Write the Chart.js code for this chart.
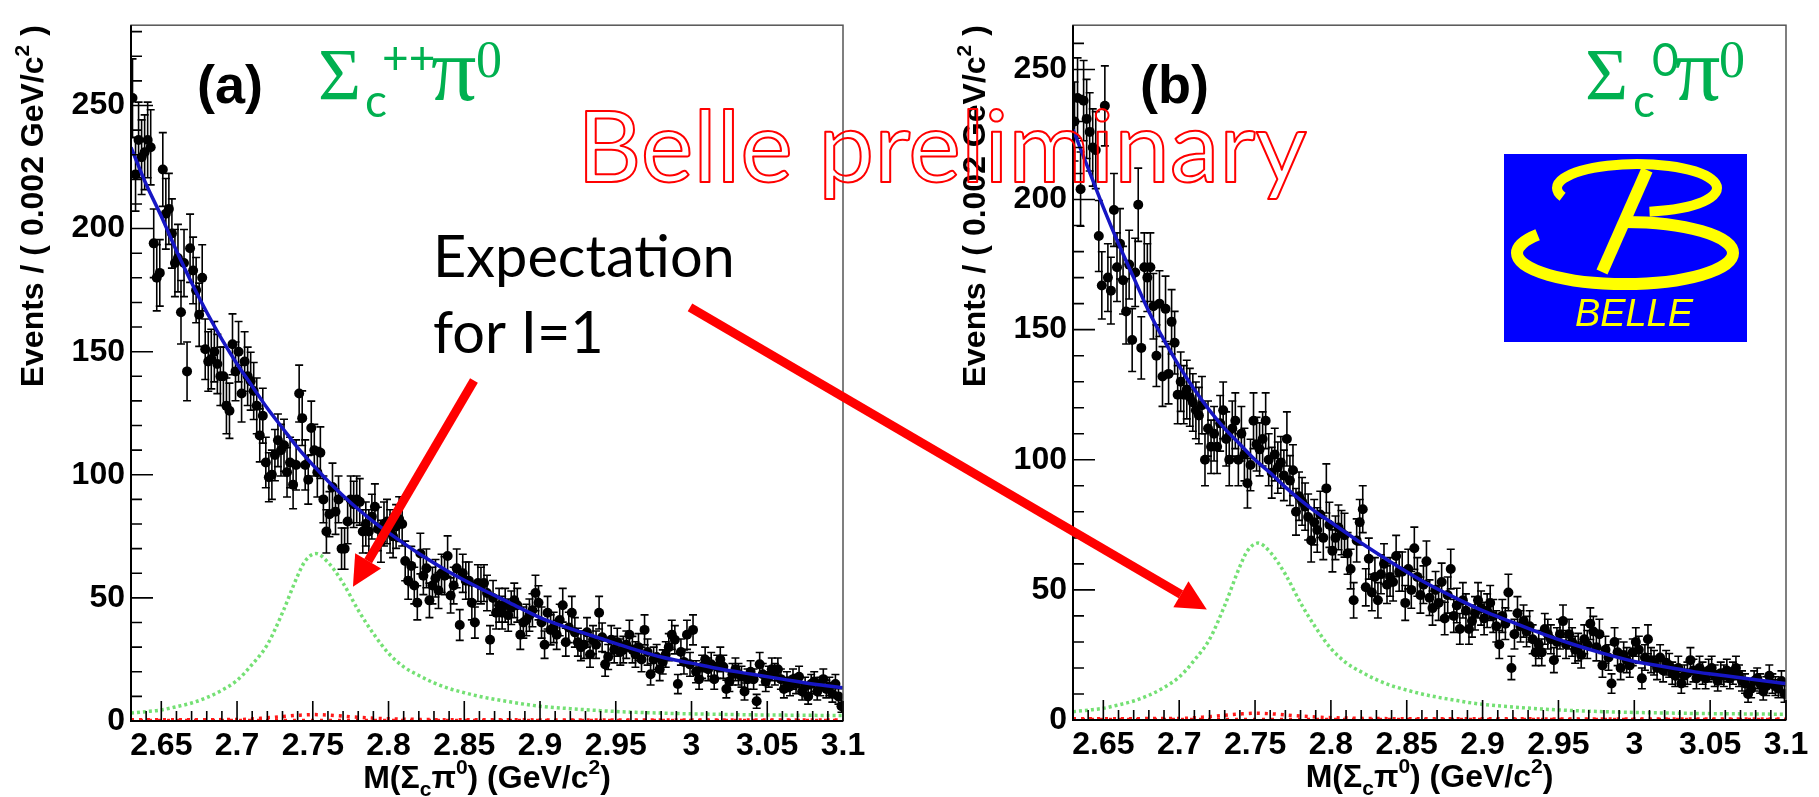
<!DOCTYPE html>
<html>
<head>
<meta charset="utf-8">
<script src="https://cdn.jsdelivr.net/npm/chart.js@4.4.1/dist/chart.umd.min.js"></script>
<style>
  html, body { margin: 0; padding: 0; background: #fff; }
  #wrap { position: relative; width: 1819px; height: 797px; overflow: hidden; }
  canvas { position: absolute; top: 0; }
  #panelA { left: 0; }
  #panelB { left: 900px; }
  #overlay { left: 0; pointer-events: none; }
</style>
</head>
<body>
<div id="wrap">
  <canvas id="panelA" width="900" height="797"></canvas>
  <canvas id="panelB" width="919" height="797"></canvas>
  <canvas id="overlay" width="1819" height="797"></canvas>
</div>
<script>
// histogram binning (0.002 GeV/c^2 bins, first bin centre)
const BIN_START = 2.631;
const BIN_WIDTH = 0.002;

const X_TICKS = [2.65, 2.7, 2.75, 2.8, 2.85, 2.9, 2.95, 3, 3.05, 3.1];
const X_TICK_LABELS = ['2.65', '2.7', '2.75', '2.8', '2.85', '2.9', '2.95', '3', '3.05', '3.1'];
const Y_TICKS = [0, 50, 100, 150, 200, 250];
const Y_TICK_LABELS = ['0', '50', '100', '150', '200', '250'];

// (a) Sigma_c++ pi0 events per bin
const countsA = [
  253, 222, 236, 229, 231, 236, 233, 194, 180, 182,
  224, 206, 208, 198, 186, 188, 166, 186, 142, 192,
  183, 175, 165, 180, 151, 146, 147, 150, 145, 140,
  140, 128, 126, 153, 142, 150, 133, 146, 140, 138,
  134, 128, 116, 124, 105, 99, 100, 108, 114, 110,
  112, 101, 105, 96, 104, 133, 123, 104, 98, 119,
  110, 101, 109, 90, 77, 84, 95, 85, 90, 70,
  70, 81, 90, 88, 90, 89, 77, 80, 77, 83,
  87, 78, 73, 80, 81, 77, 75, 79, 82, 80,
  65, 57, 63, 55, 48, 68, 59, 62, 49, 55,
  58, 53, 60, 59, 67, 51, 55, 62, 39, 60,
  57, 57, 48, 40, 56, 55, 56, 52, 33, 50,
  44, 47, 44, 47, 43, 46, 49, 47, 35, 40,
  41, 43, 45, 52, 48, 40, 31, 44, 37, 38,
  35, 41, 47, 32, 38, 44, 36, 32, 30, 31,
  36, 27, 33, 31, 44, 34, 23, 26, 33, 29,
  32, 28, 29, 31, 35, 29, 27, 30, 25, 37,
  28, 19, 25, 26, 21, 24, 27, 30, 35, 33,
  15, 28, 24, 35, 23, 37, 20, 17, 22, 25,
  21, 23, 17, 22, 25, 22, 13, 16, 19, 21,
  19, 18, 12, 17, 20, 17, 8, 23, 19, 16,
  18, 21, 19, 21, 17, 13, 16, 14, 17, 15,
  18, 12, 14, 10, 15, 16, 12, 14, 17, 13,
  14, 11, 15, 10, 6
];

// (b) Sigma_c0 pi0 events per bin
const countsB = [
  230, 239, 204, 238, 231, 226, 220, 219, 186, 167,
  236, 170, 165, 196, 174, 183, 169, 157, 175, 146,
  172, 198, 143, 174, 170, 174, 159, 140, 160, 132,
  158, 133, 153, 145, 125, 130, 125, 127, 124, 122,
  119, 117, 121, 100, 112, 105, 110, 105, 114, 119,
  108, 100, 112, 115, 100, 110, 102, 91, 98, 115,
  106, 104, 108, 115, 100, 95, 102, 97, 99, 94,
  108, 92, 96, 80, 86, 84, 82, 78, 69, 76,
  73, 79, 70, 89, 75, 65, 70, 74, 72, 71,
  64, 58, 46, 69, 76, 81, 51, 62, 49, 55,
  46, 56, 60, 52, 55, 53, 63, 57, 57, 45,
  58, 50, 66, 55, 48, 52, 61, 47, 43, 50,
  45, 53, 39, 48, 58, 40, 44, 35, 46, 42,
  35, 38, 41, 46, 43, 39, 42, 45, 40, 36,
  29, 40, 37, 49, 20, 33, 41, 36, 38, 34,
  36, 31, 26, 29, 26, 35, 33, 31, 23, 30,
  33, 38, 29, 33, 30, 27, 28, 25, 31, 29,
  37, 34, 28, 33, 21, 27, 24, 14, 30, 26,
  20, 25, 23, 21, 26, 30, 27, 16, 24, 31,
  23, 22, 20, 24, 19, 22, 21, 18, 17, 20,
  14, 17, 18, 23, 19, 16, 20, 18, 16, 19,
  20, 17, 15, 18, 17, 19, 16, 18, 20, 17,
  15, 14, 10, 12, 15, 16, 14, 11, 13, 17,
  14, 13, 12, 15, 10
];

// fitted background (blue)
const fitX = [2.63, 2.64, 2.65, 2.66, 2.67, 2.68, 2.69, 2.70, 2.71, 2.72, 2.73, 2.74, 2.75, 2.76, 2.77, 2.78, 2.79, 2.80,
  2.82, 2.84, 2.86, 2.88, 2.90, 2.92, 2.94, 2.96, 2.98, 3.00, 3.02, 3.04, 3.06, 3.08, 3.10];
const fitA = [233, 218, 205, 191, 178, 166, 155, 145, 136, 127, 119, 111, 104, 97.5, 91.5, 86, 81, 76.5,
  68, 60.5, 54, 48, 42, 37.5, 33.5, 29.5, 26, 23.5, 21, 19, 17, 15, 13.5];
const fitB = [227, 212, 197, 183, 170, 157, 146, 136, 127, 119, 112, 106, 100, 95, 89.5, 84.5, 80, 76,
  68, 60.5, 53.5, 47.5, 42, 37.5, 33, 29, 25.5, 22.5, 20.5, 18.5, 17, 15.5, 14];

// expected I=1 signal shape (green dotted)
const sigX = [2.63, 2.64, 2.65, 2.66, 2.67, 2.68, 2.69, 2.70, 2.71, 2.72, 2.73, 2.74, 2.745, 2.752, 2.76, 2.77, 2.78, 2.79,
  2.80, 2.81, 2.82, 2.83, 2.84, 2.85, 2.86, 2.87, 2.88, 2.89, 2.90, 2.92, 2.94, 2.96, 2.98, 3.00, 3.02, 3.04, 3.06, 3.08, 3.10];
const sigY = [3.2, 3.8, 4.5, 5.8, 7.3, 9.5, 12.5, 16.5, 23, 31, 44, 59, 65, 68, 64.5, 56, 45, 35.5,
  27.5, 22, 18.5, 15.5, 13.2, 11.5, 10, 8.8, 7.8, 6.8, 6, 5, 4.2, 3.6, 3.2, 2.9, 2.7, 2.5, 2.4, 2.3, 2.2];

// small red dotted component near zero
const redX = [2.63, 2.70, 2.72, 2.74, 2.75, 2.76, 2.78, 2.80, 2.85, 3.10];
const redY = [0.5, 0.6, 1.3, 2.3, 2.6, 2.4, 1.5, 0.9, 0.5, 0.4];
const zeroX = [2.63, 3.10];
const zeroY = [0.3, 0.3];

const FONT = '"Liberation Sans", Arial, sans-serif';

function pts(xs, ys) {
  return xs.map((x, i) => ({ x: x, y: ys[i] }));
}
function binned(counts) {
  return counts.map((c, i) => ({ x: BIN_START + i * BIN_WIDTH, y: c }));
}

function drawParts(ctx, parts, x, y, centred) {
  let total = 0;
  parts.forEach(p => { ctx.font = p.f; total += ctx.measureText(p.t).width; });
  let cx = centred ? x - total / 2 : x;
  parts.forEach(p => {
    ctx.font = p.f;
    ctx.fillText(p.t, cx, y + (p.dy || 0));
    cx += ctx.measureText(p.t).width;
  });
  return total;
}

// error bars under the points
const errorBars = {
  id: 'errorBars',
  beforeDatasetsDraw(chart) {
    const { ctx, chartArea: a, scales: { x, y } } = chart;
    ctx.save();
    ctx.beginPath();
    ctx.rect(a.left, a.top, a.right - a.left, a.bottom - a.top);
    ctx.clip();
    ctx.strokeStyle = '#000';
    ctx.lineWidth = 1.6;
    chart.data.datasets.forEach(ds => {
      if (!ds.errorBars) return;
      ds.data.forEach(p => {
        const e = Math.sqrt(p.y);
        const px = x.getPixelForValue(p.x);
        const top = y.getPixelForValue(p.y + e);
        const bot = y.getPixelForValue(p.y - e);
        ctx.beginPath();
        ctx.moveTo(px, top); ctx.lineTo(px, bot);
        ctx.moveTo(px - 4, top); ctx.lineTo(px + 4, top);
        ctx.moveTo(px - 4, bot); ctx.lineTo(px + 4, bot);
        ctx.stroke();
      });
    });
    ctx.restore();
  }
};

// ROOT-like frame, inner ticks and axis titles
const rootFrame = {
  id: 'rootFrame',
  afterDraw(chart) {
    const { ctx, chartArea: a, scales: { x, y } } = chart;
    ctx.save();
    ctx.strokeStyle = '#555';
    ctx.lineWidth = 1.5;
    ctx.strokeRect(a.left, a.top, a.right - a.left, a.bottom - a.top);
    ctx.strokeStyle = '#000';
    ctx.lineWidth = 2;
    ctx.beginPath();
    ctx.moveTo(a.left, a.top); ctx.lineTo(a.left, a.bottom); ctx.lineTo(a.right, a.bottom);
    ctx.stroke();

    ctx.lineWidth = 1.6;
    ctx.beginPath();
    for (let v = 0; v <= y.max; v += 10) {
      const py = y.getPixelForValue(v);
      const len = v % 50 === 0 ? 22 : 11;
      ctx.moveTo(a.left, py); ctx.lineTo(a.left + len, py);
    }
    for (let k = 264; k <= 310; k++) {
      const px = x.getPixelForValue(k / 100);
      const len = k % 5 === 0 ? 20 : 10;
      ctx.moveTo(px, a.bottom); ctx.lineTo(px, a.bottom - len);
    }
    ctx.stroke();

    ctx.fillStyle = '#000';
    ctx.textBaseline = 'alphabetic';
    const big = 'bold 32px ' + FONT, small = 'bold 21px ' + FONT;
    drawParts(ctx, [
      { t: 'M(Σ', f: big }, { t: 'c', f: small, dy: 8 }, { t: 'π', f: big },
      { t: '0', f: small, dy: -14 }, { t: ') (GeV/c', f: big }, { t: '2', f: small, dy: -14 }, { t: ')', f: big }
    ], (a.left + a.right) / 2, a.bottom + 67, true);

    ctx.save();
    ctx.translate(a.left - 88, a.top);
    ctx.rotate(-Math.PI / 2);
    const yParts = [{ t: 'Events / ( 0.002 GeV/c', f: big }, { t: '2', f: small, dy: -14 }, { t: ' )', f: big }];
    let w = 0;
    yParts.forEach(p => { ctx.font = p.f; w += ctx.measureText(p.t).width; });
    drawParts(ctx, yParts, -w, 0, false);
    ctx.restore();
    ctx.restore();
  }
};

function makePanel(id, counts, fit, yMax, yAxisW, padRight, xAxisH) {
  return new Chart(document.getElementById(id), {
    type: 'scatter',
    data: {
      datasets: [
        { label: 'fit', data: pts(fitX, fit), showLine: true, borderColor: '#1616c4', borderWidth: 3.5,
          pointRadius: 0, cubicInterpolationMode: 'monotone' },
        { label: 'data', data: binned(counts), errorBars: true, backgroundColor: '#000', borderWidth: 0,
          pointRadius: 5 },
        { label: 'expected I=1', data: pts(sigX, sigY), showLine: true, borderColor: '#74e074', borderWidth: 3.5,
          borderDash: [3, 3], pointRadius: 0, cubicInterpolationMode: 'monotone' },
        { label: 'red', data: pts(redX, redY), showLine: true, borderColor: '#ff1a1a', borderWidth: 3.5,
          borderDash: [3, 5], pointRadius: 0, cubicInterpolationMode: 'monotone' },
        { label: 'red0', data: pts(zeroX, zeroY), showLine: true, borderColor: '#ff1a1a', borderWidth: 3,
          borderDash: [3, 6], pointRadius: 0 }
      ]
    },
    options: {
      responsive: false,
      animation: false,
      devicePixelRatio: 1,
      layout: { padding: { top: 10, right: padRight, left: 0, bottom: 0 } },
      plugins: { legend: { display: false }, tooltip: { enabled: false } },
      scales: {
        x: {
          type: 'linear', min: 2.63, max: 3.1,
          grid: { display: false, drawTicks: false },
          border: { display: false },
          afterBuildTicks: s => { s.ticks = X_TICKS.map(v => ({ value: v })); },
          afterFit: s => { s.height = xAxisH; },
          ticks: {
            autoSkip: false, maxRotation: 0, padding: 6, color: '#000',
            font: { family: FONT, size: 32, weight: 'bold' },
            callback: v => X_TICK_LABELS[X_TICKS.findIndex(t => Math.abs(t - v) < 1e-6)]
          }
        },
        y: {
          min: 0, max: yMax,
          grid: { display: false, drawTicks: false },
          border: { display: false },
          afterBuildTicks: s => { s.ticks = Y_TICKS.map(v => ({ value: v })); },
          afterFit: s => { s.width = yAxisW; },
          ticks: {
            padding: 6, color: '#000',
            font: { family: FONT, size: 32, weight: 'bold' },
            callback: v => Y_TICK_LABELS[Y_TICKS.indexOf(v)]
          }
        }
      }
    },
    plugins: [errorBars, rootFrame]
  });
}

const chartA = makePanel('panelA', countsA, fitA, 282.6, 131, 57, 76);
const chartB = makePanel('panelB', countsB, fitB, 267, 173, 33, 77);

// annotations laid over both panels
const ov = document.getElementById('overlay').getContext('2d');
function at(chart, offX, xv, yv) {
  return [offX + chart.scales.x.getPixelForValue(xv), chart.scales.y.getPixelForValue(yv)];
}
function fitFont(ctx, text, family, weight, width) {
  ctx.font = weight + ' 100px ' + family;
  return weight + ' ' + (100 * width / ctx.measureText(text).width).toFixed(1) + 'px ' + family;
}
function arrow(ctx, from, to) {
  const [x1, y1] = from, [x2, y2] = to;
  const ang = Math.atan2(y2 - y1, x2 - x1);
  const headL = 30, headW = 15;
  const bx = x2 - headL * Math.cos(ang), by = y2 - headL * Math.sin(ang);
  ctx.strokeStyle = ctx.fillStyle = '#ff0000';
  ctx.lineWidth = 9;
  ctx.beginPath(); ctx.moveTo(x1, y1); ctx.lineTo(bx, by); ctx.stroke();
  ctx.beginPath();
  ctx.moveTo(x2, y2);
  ctx.lineTo(bx + headW * Math.sin(ang), by - headW * Math.cos(ang));
  ctx.lineTo(bx - headW * Math.sin(ang), by + headW * Math.cos(ang));
  ctx.closePath(); ctx.fill();
}
function drawLogo(ctx, x, y, w, h) {
  ctx.save();
  ctx.fillStyle = '#0000ff';
  ctx.fillRect(x, y, w, h);
  ctx.strokeStyle = '#ffff00';
  ctx.lineWidth = 10;
  ctx.beginPath();
  ctx.ellipse(x + 133, y + 34, 80, 24, 0, Math.PI * 0.88, Math.PI * 2.45);
  ctx.stroke();
  ctx.lineWidth = 12;
  ctx.beginPath();
  ctx.ellipse(x + 121, y + 99, 108, 31, 0, -Math.PI * 0.5, Math.PI * 1.2);
  ctx.stroke();
  ctx.beginPath();
  ctx.moveTo(x + 143, y + 16); ctx.lineTo(x + 98, y + 118);
  ctx.stroke();
  ctx.fillStyle = '#ffff00';
  ctx.font = fitFont(ctx, 'BELLE', FONT, 'italic', 118);
  ctx.fillText('BELLE', x + 71, y + 172);
  ctx.restore();
}

ov.textBaseline = 'alphabetic';

// panel letters
ov.fillStyle = '#000';
ov.font = 'bold 54px ' + FONT;
ov.fillText('(a)', 197, 103);
ov.fillText('(b)', 1140, 103);

// channel labels
const GREEN = '#00b050';
const SERIF = '"Liberation Serif", "DejaVu Serif", serif';
const SANS = 'Lato, "Open Sans", sans-serif';
ov.fillStyle = GREEN;
ov.font = '74px ' + SERIF; ov.fillText('Σ', 318, 100);
ov.font = '46px ' + SANS; ov.fillText('c', 365, 117);
ov.font = '46px ' + SANS; ov.fillText('++', 382, 74);
ov.font = '90px ' + SERIF; ov.fillText('π', 431, 100);
ov.font = '52px ' + SERIF; ov.fillText('0', 476, 77);

ov.font = '74px ' + SERIF; ov.fillText('Σ', 1585, 100);
ov.font = '46px ' + SANS; ov.fillText('c', 1633, 117);
ov.font = '46px ' + SANS; ov.fillText('0', 1652, 76);
ov.font = '90px ' + SERIF; ov.fillText('π', 1675, 100);
ov.font = '52px ' + SERIF; ov.fillText('0', 1719, 77);

drawLogo(ov, 1504, 154, 243, 188);

// annotation text
ov.fillStyle = '#000';
ov.font = fitFont(ov, 'Expectation', SANS, 'normal', 302);
ov.fillText('Expectation', 433, 277);
ov.fillText('for I=1', 433, 353);

ov.strokeStyle = '#ff0000';
ov.lineWidth = 2;
ov.lineJoin = 'round';
ov.font = fitFont(ov, 'Belle preliminary', SANS, 'normal', 730);
ov.strokeText('Belle preliminary', 577, 182);

// arrows pointing at the expected peak in each panel
arrow(ov, at(chartA, 0, 2.8564, 138.3), at(chartA, 0, 2.7765, 54.5));
arrow(ov, at(chartA, 0, 2.999, 168), at(chartB, 900, 2.7182, 42.5));
</script>
</body>
</html>
